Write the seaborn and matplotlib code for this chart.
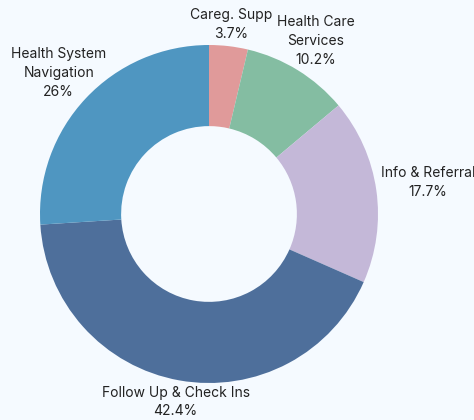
import numpy as np
import seaborn as sns
from matplotlib import pyplot as plt

categories = ["Careg. Supp", "Health Care\nServices", "Info & Referral",
              "Follow Up & Check Ins", "Health System\nNavigation"]
shares = [3.7, 10.2, 17.7, 42.4, 26.0]
share_labels = ["3.7%", "10.2%", "17.7%", "42.4%", "26%"]
colors = ["#e09a9a", "#84bda2", "#c4b8d8", "#4e6f9b", "#4f96c1"]
label_dist = [1.13, 1.2, 1.31, 1.13, 1.22]

BG = "#f5faff"

sns.set_theme(style="white")
plt.rcParams["font.family"] = ["Inter", "DejaVu Sans"]

fig = plt.figure(figsize=(4.74, 4.2), dpi=100, facecolor=BG)
# square axes around the donut center (209, 214) px, radius 169 px
ax = fig.add_axes([40 / 474, (420 - 214 - 169) / 420, 338 / 474, 338 / 420])
ax.set_facecolor(BG)

wedges, _ = ax.pie(shares, colors=colors, startangle=90, counterclock=False,
                   radius=1, wedgeprops=dict(width=0.48, edgecolor="none"))

for w, name, pct, d in zip(wedges, categories, share_labels, label_dist):
    ang = np.deg2rad((w.theta1 + w.theta2) / 2)
    ax.text(d * np.cos(ang), d * np.sin(ang), f"{name}\n{pct}",
            ha="center", va="center", fontsize=10, color="#222222",
            linespacing=1.45)

ax.set_xlim(-1, 1)
ax.set_ylim(-1, 1)
ax.set_aspect("equal")
ax.axis("off")

fig.savefig("out.png", dpi=100, facecolor=BG)
